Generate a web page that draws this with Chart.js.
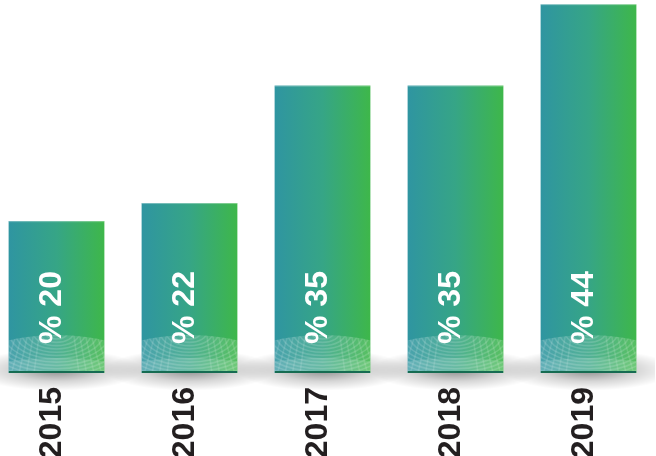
<!DOCTYPE html>
<html>
<head>
<meta charset="utf-8">
<script src="https://cdn.jsdelivr.net/npm/chart.js@4.4.1/dist/chart.umd.min.js"></script>
<style>
  html, body { margin: 0; padding: 0; background: #ffffff; overflow: hidden; }
  #wrap { position: absolute; left: -10px; top: 0; width: 665px; height: 456px; }
</style>
</head>
<body>
<div id="wrap"><canvas id="c"></canvas></div>
<script>
const years = ['2015', '2016', '2017', '2018', '2019'];
const shares = [20, 22, 35, 35, 44];
const valuePrefix = '% ';

const BAR_FRACTION = 0.72;

function barGradient(ctx) {
  const chart = ctx.chart;
  const area = chart.chartArea;
  const xs = chart.scales.x;
  if (!area || !xs) return '#36a77a';
  const x = xs.getPixelForValue(ctx.dataIndex);
  const w = (area.width / years.length) * BAR_FRACTION;
  const g = chart.ctx.createLinearGradient(x - w / 2, 0, x + w / 2, 0);
  g.addColorStop(0, '#2f95a1');
  g.addColorStop(0.5, '#36a586');
  g.addColorStop(1, '#3eb74a');
  return g;
}

const shadowPlugin = {
  id: 'baseShadow',
  beforeDatasetsDraw(chart) {
    const ctx = chart.ctx;
    const base = chart.chartArea.bottom;
    const meta = chart.getDatasetMeta(0);
    meta.data.forEach(el => {
      const w = el.width;
      ctx.save();
      ctx.translate(el.x, base - 3);
      ctx.scale(1, 0.24);
      const r = w * 0.9;
      const g = ctx.createRadialGradient(0, 0, 0, 0, 0, r);
      g.addColorStop(0, 'rgba(0,0,0,0.45)');
      g.addColorStop(0.55, 'rgba(0,0,0,0.16)');
      g.addColorStop(1, 'rgba(0,0,0,0)');
      ctx.fillStyle = g;
      ctx.beginPath();
      ctx.arc(0, 0, r, 0, Math.PI * 2);
      ctx.fill();
      ctx.restore();
    });
  }
};

const decoPlugin = {
  id: 'barDeco',
  afterDatasetsDraw(chart) {
    const ctx = chart.ctx;
    const base = chart.chartArea.bottom;
    const meta = chart.getDatasetMeta(0);
    meta.data.forEach((el, i) => {
      const w = el.width;
      const left = el.x - w / 2;
      // light top edge
      ctx.fillStyle = 'rgba(255,255,255,0.35)';
      ctx.fillRect(left, el.y, w, 1);
      // bottom pattern
      ctx.save();
      ctx.beginPath();
      ctx.rect(left, base - 44, w, 44);
      ctx.clip();
      ctx.save();
      ctx.beginPath();
      ctx.ellipse(el.x, base + 70, w * 1.6, 108, 0, 0, Math.PI * 2);
      ctx.fillStyle = 'rgba(255,255,255,0.13)';
      ctx.fill();
      ctx.clip();
      ctx.strokeStyle = 'rgba(255,255,255,0.15)';
      ctx.lineWidth = 1.6;
      for (let r = 5; r < 120; r += 6) {
        ctx.beginPath();
        ctx.ellipse(el.x, base - 40, r, r * 0.55, 0, 0, Math.PI);
        ctx.stroke();
      }
      ctx.strokeStyle = 'rgba(255,255,255,0.12)';
      for (let k = -8; k <= 8; k++) {
        if (Math.abs(k) < 3) continue;
        ctx.beginPath();
        ctx.moveTo(el.x + k * 5.5, base - 44);
        ctx.lineTo(el.x + k * 7.5, base);
        ctx.stroke();
      }
      ctx.restore();
      ctx.beginPath();
      ctx.ellipse(el.x, base + 45, w * 1.5, 60, 0, 0, Math.PI * 2);
      ctx.fillStyle = 'rgba(255,255,255,0.14)';
      ctx.fill();
      ctx.fillStyle = '#166c52';
      ctx.fillRect(left, base - 2, w, 2);
      ctx.restore();

      // value label
      ctx.save();
      ctx.translate(el.x - 4, base - 29);
      ctx.rotate(-Math.PI / 2);
      ctx.font = 'bold 32px "Liberation Sans", Arial, sans-serif';
      ctx.fillStyle = '#ffffff';
      ctx.textAlign = 'left';
      ctx.textBaseline = 'middle';
      ctx.fillText(valuePrefix + shares[i], 0, 0);
      ctx.restore();
    });
  }
};

new Chart(document.getElementById('c'), {
  type: 'bar',
  data: {
    labels: years,
    datasets: [{
      data: shares,
      backgroundColor: barGradient,
      borderWidth: 0,
      barPercentage: BAR_FRACTION,
      categoryPercentage: 1
    }]
  },
  options: {
    responsive: true,
    maintainAspectRatio: false,
    animation: false,
    layout: { padding: 0 },
    plugins: { legend: { display: false }, tooltip: { enabled: false } },
    scales: {
      x: {
        grid: { display: false, drawTicks: false },
        border: { display: false },
        ticks: {
          autoSkip: false,
          minRotation: 90,
          maxRotation: 90,
          padding: 14,
          labelOffset: -4,
          color: '#231f20',
          font: { family: '"Liberation Sans", Arial, sans-serif', size: 32, weight: 'bold' }
        },
        afterFit(scale) { scale.height = 83; }
      },
      y: {
        display: false,
        min: 3.2,
        max: 44.46
      }
    }
  },
  plugins: [shadowPlugin, decoPlugin]
});
</script>
</body>
</html>
